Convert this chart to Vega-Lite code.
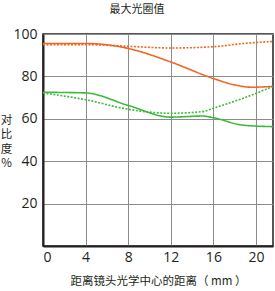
{
  "$schema": "https://vega.github.io/schema/vega-lite/v6.json",
  "width": 230,
  "height": 212,
  "autosize": {"type": "none"},
  "padding": {"left": 43, "top": 34, "right": 2, "bottom": 45},
  "background": "white",
  "title": {"text": "最大光圈值", "fontSize": 11, "font": "Noto Sans CJK SC", "fontWeight": "normal", "color": "#231f20", "anchor": "middle", "frame": "group", "dx": -21, "offset": 1, "baseline": "bottom"},
  "config": {
    "view": {"stroke": "#231f20", "strokeWidth": 1.5},
    "axis": {"labelFont": "Open Sans", "labelFontSize": 14, "labelColor": "#231f20", "ticks": false, "gridColor": "#8c8c8c", "gridWidth": 1, "domainColor": "#231f20", "domainWidth": 2}
  },
  "data": {"values": [
    {"x": 0, "y": 95.5, "s": "os"}, {"x": 4, "y": 95.5, "s": "os"}, {"x": 8, "y": 93.2, "s": "os"}, {"x": 12, "y": 86.8, "s": "os"}, {"x": 16, "y": 79, "s": "os"}, {"x": 18, "y": 76, "s": "os"}, {"x": 19.6, "y": 74.9, "s": "os"}, {"x": 21.6, "y": 75.3, "s": "os"},
    {"x": 0, "y": 95, "s": "od"}, {"x": 4, "y": 95, "s": "od"}, {"x": 8, "y": 94.2, "s": "od"}, {"x": 12, "y": 93.4, "s": "od"}, {"x": 16, "y": 94, "s": "od"}, {"x": 19, "y": 95.6, "s": "od"}, {"x": 21.6, "y": 96.5, "s": "od"},
    {"x": 0, "y": 72.5, "s": "gs"}, {"x": 4, "y": 72.2, "s": "gs"}, {"x": 8, "y": 66.3, "s": "gs"}, {"x": 12, "y": 60.8, "s": "gs"}, {"x": 15, "y": 61.3, "s": "gs"}, {"x": 16, "y": 60.5, "s": "gs"}, {"x": 18.8, "y": 57, "s": "gs"}, {"x": 21.6, "y": 56.3, "s": "gs"},
    {"x": 0, "y": 72.2, "s": "gd"}, {"x": 4, "y": 69, "s": "gd"}, {"x": 8, "y": 64.5, "s": "gd"}, {"x": 12, "y": 62.6, "s": "gd"}, {"x": 15, "y": 63.4, "s": "gd"}, {"x": 16, "y": 65, "s": "gd"}, {"x": 18.8, "y": 69.7, "s": "gd"}, {"x": 21.6, "y": 75.3, "s": "gd"}
  ]},
  "mark": {"type": "line", "interpolate": "monotone", "strokeWidth": 1.6, "clip": true},
  "encoding": {
    "x": {"field": "x", "type": "quantitative", "scale": {"domain": [0, 21.6], "nice": false, "zero": false},
      "axis": {"values": [0, 4, 8, 12, 16, 20], "labelPadding": 4, "title": "距离镜头光学中心的距离（ mm ）", "titleFont": "Noto Sans CJK SC", "titleFontSize": 11.5, "titleFontWeight": "normal", "titleColor": "#231f20", "titlePadding": 11}},
    "y": {"field": "y", "type": "quantitative", "scale": {"domain": [0, 100], "nice": false},
      "axis": {"values": [20, 40, 60, 80, 100], "labelPadding": 6, "title": ["对", "比", "度", "%"], "titleAngle": 0, "titleFont": "Noto Sans CJK SC", "titleFontSize": 11.5, "titleFontWeight": "normal", "titleColor": "#231f20", "titleLineHeight": 14.5, "titleAlign": "center", "titleBaseline": "top", "titleX": -37, "titleY": 80}},
    "detail": {"field": "s"},
    "color": {"field": "s", "type": "nominal", "scale": {"domain": ["os", "od", "gs", "gd"], "range": ["#f26522", "#f26522", "#3db93d", "#3db93d"]}, "legend": null},
    "strokeDash": {"field": "s", "type": "nominal", "scale": {"domain": ["os", "od", "gs", "gd"], "range": [[1, 0], [2, 1.5], [1, 0], [2, 1.5]]}, "legend": null}
  }
}
